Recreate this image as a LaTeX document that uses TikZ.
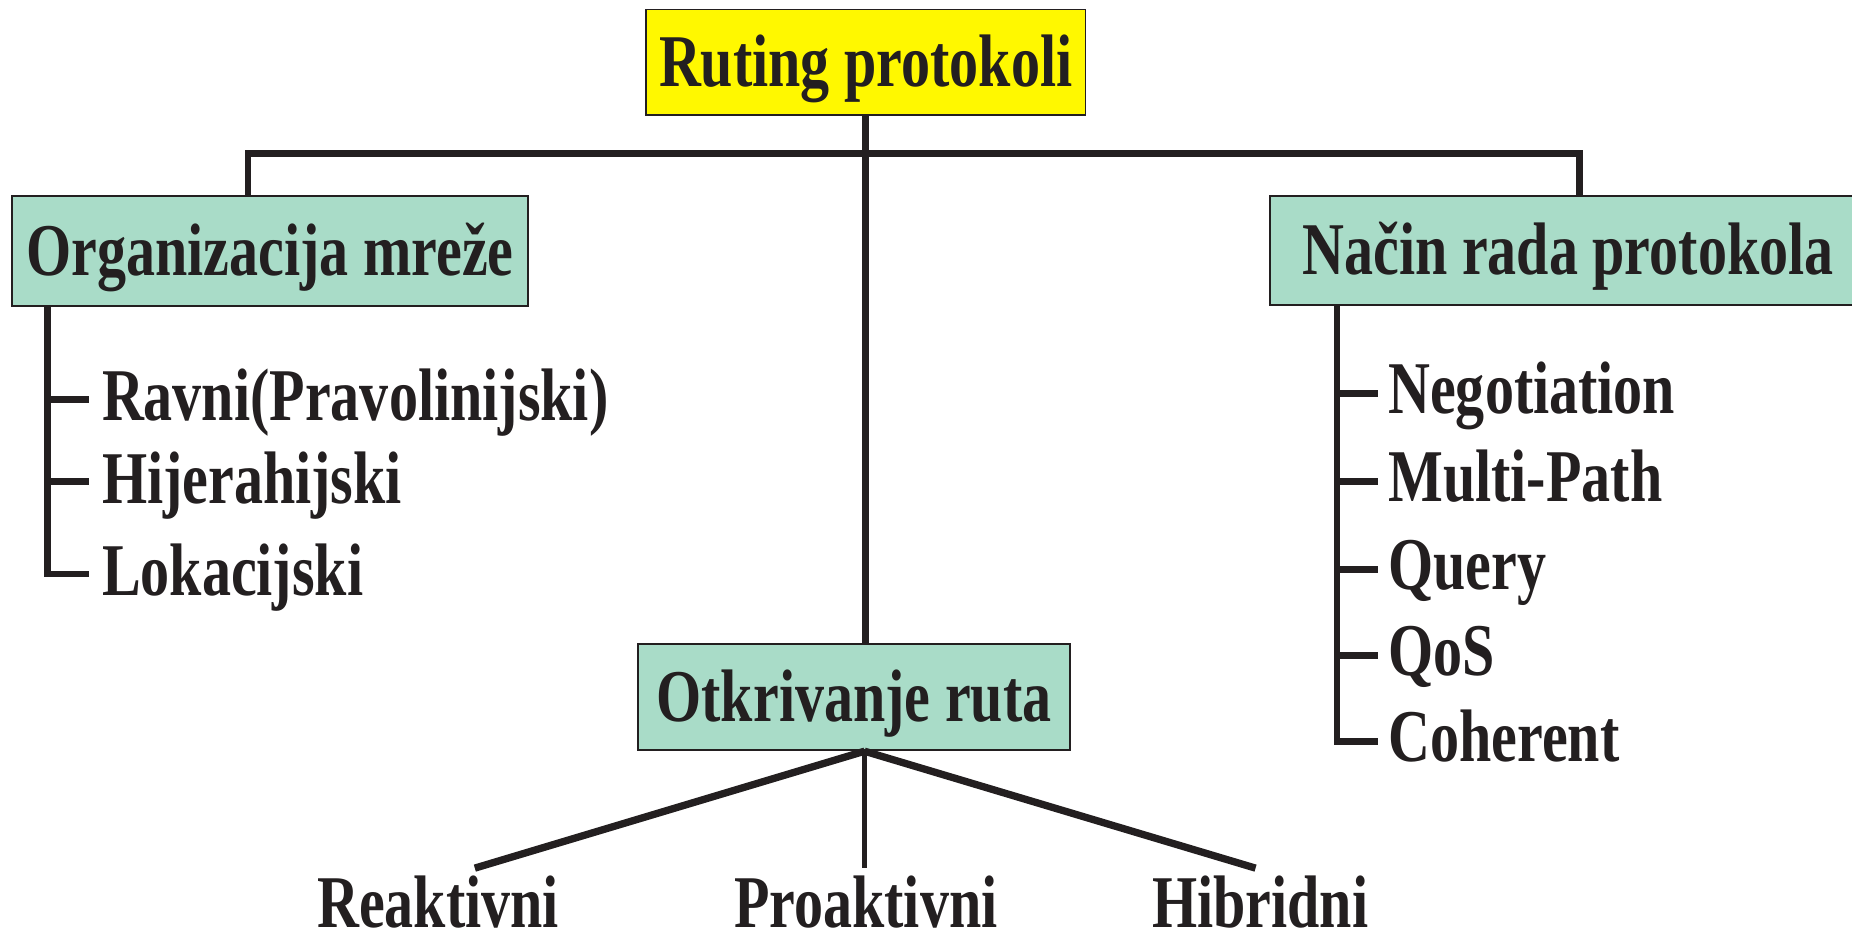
\documentclass[tikz,border=0pt]{standalone}
\usepackage{fontspec}
\setmainfont{Liberation Serif}[FakeStretch=0.78]
\definecolor{boxyellow}{HTML}{FFF800}
\definecolor{boxteal}{HTML}{A9DCC8}
\definecolor{ink}{HTML}{231F20}
\begin{document}
\begin{tikzpicture}[x=0.5pt,y=-0.5pt,
  every node/.style={text=ink,font=\bfseries\fontsize{31.5}{36}\selectfont},
  boxnode/.style={draw=ink,line width=0.8pt,inner sep=0pt,text height=20.8pt,text depth=0pt,align=center},
  itemL/.style={anchor=west,inner xsep=5.5pt,inner ysep=0pt,text height=18pt,text depth=0pt},
  itemR/.style={anchor=west,inner xsep=4pt,inner ysep=0pt,text height=17pt,text depth=0pt},
  leaf/.style={anchor=base,inner sep=0pt},
  mainline/.style={draw=ink,line width=2.9pt},
  sideline/.style={draw=ink,line width=3.1pt},
  midline/.style={draw=ink,line width=2.1pt}]
\useasboundingbox (0,0) rectangle (1568,798);
% boxes
\node[boxnode,fill=boxyellow,minimum width=186pt,minimum height=44.5pt] (top) at (733,52.5) {Ruting protokoli};
\node[boxnode,fill=boxteal,minimum width=218.5pt,minimum height=46.5pt] (org) at (228.5,212.5) {Organizacija mreže};
\node[boxnode,fill=boxteal,minimum width=252.5pt,minimum height=46pt] (nacin) at (1327.5,212) {Način rada protokola};
\node[boxnode,fill=boxteal,minimum width=183pt,minimum height=45pt] (otk) at (723,590) {Otkrivanje ruta};
% left items
\node[itemL] (ra) at (75,338) {Ravni(Pravolinijski)};
\node[itemL] (hi) at (75,408) {Hijerahijski};
\node[itemL] (lo) at (75,486) {Lokacijski};
% right items
\node[itemR] (ne) at (1167,333) {Negotiation};
\node[itemR] (mu) at (1167,408) {Multi-Path};
\node[itemR] (qu) at (1167,482) {Query};
\node[itemR] (qo) at (1167,555) {QoS};
\node[itemR] (co) at (1167,628) {Coherent};
% bottom leaves
\node[leaf] (re) at (371,785) {Reaktivni};
\node[leaf] (pr) at (733,785) {Proaktivni};
\node[leaf] (hb) at (1067,785) {Hibridni};
% coordinates
\coordinate (busL) at (210,130);
\coordinate (busR) at (1337,130);
\coordinate (lx) at (40,0);
\coordinate (rx) at (1132,0);
\coordinate (apex) at (732,636);
\coordinate (eL) at (402,735);
\coordinate (eM) at (732,735);
\coordinate (eR) at (1063,735);
% connectors
\draw[mainline] (top.south) -- (top.south |- otk.north);
\draw[mainline] (org.north -| busL) -- (busL) -- (busR) -- (nacin.north -| busR);
\draw[mainline] (org.south -| lx) |- (lo.west);
\draw[mainline] (lx |- ra.west) -- (ra.west);
\draw[mainline] (lx |- hi.west) -- (hi.west);
\draw[mainline] (nacin.south -| rx) |- (co.west);
\draw[mainline] (rx |- ne.west) -- (ne.west);
\draw[mainline] (rx |- mu.west) -- (mu.west);
\draw[mainline] (rx |- qu.west) -- (qu.west);
\draw[mainline] (rx |- qo.west) -- (qo.west);
\draw[sideline] (apex) -- (eL);
\draw[sideline] (apex) -- (eR);
\draw[midline] (apex) -- (eM);
\end{tikzpicture}
\end{document}
